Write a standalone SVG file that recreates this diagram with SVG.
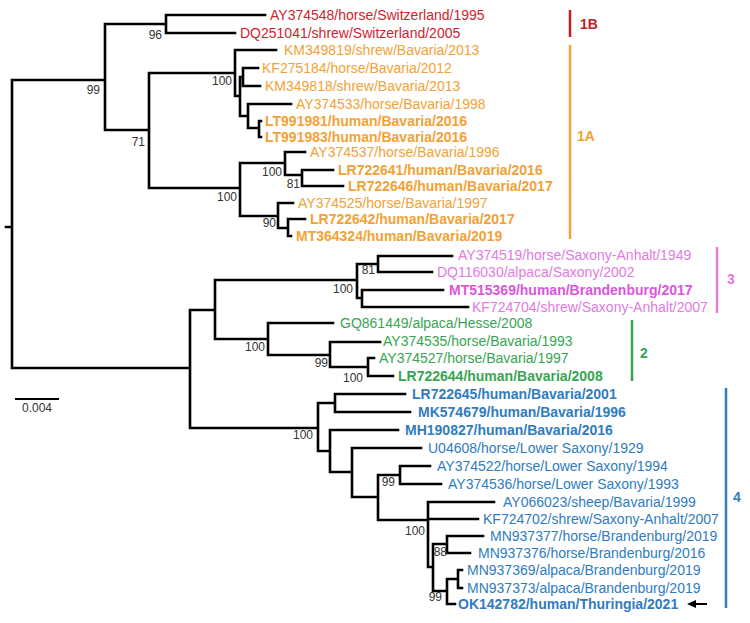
<svg xmlns="http://www.w3.org/2000/svg" width="750" height="623" viewBox="0 0 750 623">
<defs>
<style>
.br{fill:none;stroke:#000;stroke-width:2.6;stroke-linecap:square}
.lf{font-family:"Liberation Sans",Arial,sans-serif;font-size:14px}
.b{font-weight:bold}
.bs{font-family:"Liberation Sans",Arial,sans-serif;font-size:12px;fill:#333;text-anchor:end}
.cl{font-family:"Liberation Sans",Arial,sans-serif;font-size:14px;font-weight:bold}
.red{fill:#d0232e}.org{fill:#f2a235}.pnk{fill:#e27ae2}.pnkb{fill:#dc55dc}.grn{fill:#37a552}.blu{fill:#2f7cbf}
</style>
</defs>
<rect width="750" height="623" fill="#fff"/>
<g id="connectors">
<path class="br" d="M6 227H12 M12 80V368 M12 80H105 M105 24V130 M105 24H166 M166 15V33 M166 15H265 M166 33H235
M105 130H149 M149 73V188 M149 73H235 M235 50V96 M235 50H276 M235 96H240 M240 77V116
M240 77H243 M243 68V86 M243 68H258 M243 86H260 M240 116H248 M248 104V128 M248 104H291 M248 128H259 M259 121V137 M259 121H261 M259 137H261
M149 188H240 M240 163V216 M240 163H285 M285 152V175 M285 152H305 M285 175H302 M302 170V186 M302 170H333 M302 186H343
M240 216H278 M278 203V228 M278 203H293 M278 228H288 M288 219V236 M288 219H305 M288 236H291
M12 368H190 M190 310V428 M190 310H215 M215 280V339
M215 280H357 M357 264V298 M357 264H378 M378 256V272 M378 256H452 M378 272H432 M357 298H362 M362 290V307 M362 290H443 M362 307H468
M215 339H268 M268 323V355 M268 323H333 M268 355H330 M330 342V367 M330 342H380 M330 367H368 M368 358V376 M368 358H374 M368 376H393
M190 428H318 M318 403V451 M318 403H335 M335 394V412 M335 394H405 M335 412H410
M318 451H330 M330 430V472 M330 430H398 M330 472H352 M352 448V497 M352 448H421
M352 497H378 M378 475V520 M378 475H400 M400 466V484 M400 466H430 M400 484H441
M378 520H428 M428 502V567 M428 502H494 M428 519H478 M428 567H433 M433 544V591
M433 544H447 M447 536V553 M447 536H483 M447 553H470
M433 591H447 M447 579V604 M447 579H458 M458 570V588 M458 570H462 M458 588H462 M447 604H455"/>
<g id="arrow">
<path d="M707 604H693" stroke="#000" stroke-width="2"/>
<path d="M687 604L696 600L696 608Z" fill="#000"/>
</g>
</g>
<g id="scale">
<path d="M15 399H59" stroke="#000" stroke-width="2"/>
<text x="37" y="412" class="bs" style="text-anchor:middle">0.004</text>
</g>
<g id="bootstrap">
<text class="bs" x="162" y="39">96</text>
<text class="bs" x="100" y="94">99</text>
<text class="bs" x="232" y="85">100</text>
<text class="bs" x="145" y="146">71</text>
<text class="bs" x="282" y="176">100</text>
<text class="bs" x="300" y="188">81</text>
<text class="bs" x="237" y="201">100</text>
<text class="bs" x="276" y="227">90</text>
<text class="bs" x="375" y="274">81</text>
<text class="bs" x="353" y="293">100</text>
<text class="bs" x="265" y="351">100</text>
<text class="bs" x="328" y="367">99</text>
<text class="bs" x="363" y="382">100</text>
<text class="bs" x="313" y="439">100</text>
<text class="bs" x="395" y="486">99</text>
<text class="bs" x="425" y="535">100</text>
<text class="bs" x="447" y="556">88</text>
<text class="bs" x="442" y="601">99</text>
</g>
<g id="leaves-1B">
<g id="AY374548"><text class="lf red" x="270" y="20">AY374548/horse/Switzerland/1995</text></g>
<g id="DQ251041"><text class="lf red" x="240" y="38">DQ251041/shrew/Switzerland/2005</text></g>
</g>
<g id="leaves-1A">
<g id="KM349819"><text class="lf org" x="284" y="55">KM349819/shrew/Bavaria/2013</text></g>
<g id="KF275184"><text class="lf org" x="262" y="73">KF275184/horse/Bavaria/2012</text></g>
<g id="KM349818"><text class="lf org" x="265" y="91">KM349818/shrew/Bavaria/2013</text></g>
<g id="AY374533"><text class="lf org" x="296" y="109">AY374533/horse/Bavaria/1998</text></g>
<g id="LT991981"><text class="lf org b" x="265" y="126">LT991981/human/Bavaria/2016</text></g>
<g id="LT991983"><text class="lf org b" x="265" y="142">LT991983/human/Bavaria/2016</text></g>
<g id="AY374537"><text class="lf org" x="310" y="157">AY374537/horse/Bavaria/1996</text></g>
<g id="LR722641"><text class="lf org b" x="338" y="175">LR722641/human/Bavaria/2016</text></g>
<g id="LR722646"><text class="lf org b" x="348" y="191">LR722646/human/Bavaria/2017</text></g>
<g id="AY374525"><text class="lf org" x="298" y="208">AY374525/horse/Bavaria/1997</text></g>
<g id="LR722642"><text class="lf org b" x="310" y="224">LR722642/human/Bavaria/2017</text></g>
<g id="MT364324"><text class="lf org b" x="296" y="241">MT364324/human/Bavaria/2019</text></g>
</g>
<g id="leaves-3">
<g id="AY374519"><text class="lf pnk" x="458" y="260">AY374519/horse/Saxony-Anhalt/1949</text></g>
<g id="DQ116030"><text class="lf pnk" x="437" y="277">DQ116030/alpaca/Saxony/2002</text></g>
<g id="MT515369"><text class="lf pnkb b" x="449" y="295">MT515369/human/Brandenburg/2017</text></g>
<g id="KF724704"><text class="lf pnk" x="472" y="312">KF724704/shrew/Saxony-Anhalt/2007</text></g>
</g>
<g id="leaves-2">
<g id="GQ861449"><text class="lf grn" x="340" y="328">GQ861449/alpaca/Hesse/2008</text></g>
<g id="AY374535"><text class="lf grn" x="383" y="346">AY374535/horse/Bavaria/1993</text></g>
<g id="AY374527"><text class="lf grn" x="379" y="363">AY374527/horse/Bavaria/1997</text></g>
<g id="LR722644"><text class="lf grn b" x="398" y="381">LR722644/human/Bavaria/2008</text></g>
</g>
<g id="leaves-4">
<g id="LR722645"><text class="lf blu b" x="412" y="399">LR722645/human/Bavaria/2001</text></g>
<g id="MK574679"><text class="lf blu b" x="418" y="417">MK574679/human/Bavaria/1996</text></g>
<g id="MH190827"><text class="lf blu b" x="405" y="435">MH190827/human/Bavaria/2016</text></g>
<g id="U04608"><text class="lf blu" x="428" y="453">U04608/horse/Lower Saxony/1929</text></g>
<g id="AY374522"><text class="lf blu" x="437" y="471">AY374522/horse/Lower Saxony/1994</text></g>
<g id="AY374536"><text class="lf blu" x="448" y="489">AY374536/horse/Lower Saxony/1993</text></g>
<g id="AY066023"><text class="lf blu" x="503" y="507">AY066023/sheep/Bavaria/1999</text></g>
<g id="KF724702"><text class="lf blu" x="483" y="524">KF724702/shrew/Saxony-Anhalt/2007</text></g>
<g id="MN937377"><text class="lf blu" x="490" y="541">MN937377/horse/Brandenburg/2019</text></g>
<g id="MN937376"><text class="lf blu" x="478" y="558">MN937376/horse/Brandenburg/2016</text></g>
<g id="MN937369"><text class="lf blu" x="467" y="575">MN937369/alpaca/Brandenburg/2019</text></g>
<g id="MN937373"><text class="lf blu" x="467" y="593">MN937373/alpaca/Brandenburg/2019</text></g>
<g id="OK142782"><text class="lf blu b" x="458" y="609">OK142782/human/Thuringia/2021</text></g>
</g>
<g id="clade-1B"><path d="M570 10V37" stroke="#c41c24" stroke-width="2.5"/><text class="cl" fill="#c41c24" x="580" y="29">1B</text></g>
<g id="clade-1A"><path d="M570 45V239" stroke="#f2a235" stroke-width="2.5"/><text class="cl" fill="#f2a235" x="577" y="141">1A</text></g>
<g id="clade-3"><path d="M717 247V313" stroke="#e27ae2" stroke-width="2.5"/><text class="cl" fill="#e27ae2" x="727" y="284">3</text></g>
<g id="clade-2"><path d="M632 320V381" stroke="#37a552" stroke-width="2.5"/><text class="cl" fill="#37a552" x="640" y="358">2</text></g>
<g id="clade-4"><path d="M726 388V608" stroke="#2f7cbf" stroke-width="2.5"/><text class="cl" fill="#2f7cbf" x="733" y="502">4</text></g>
</svg>
